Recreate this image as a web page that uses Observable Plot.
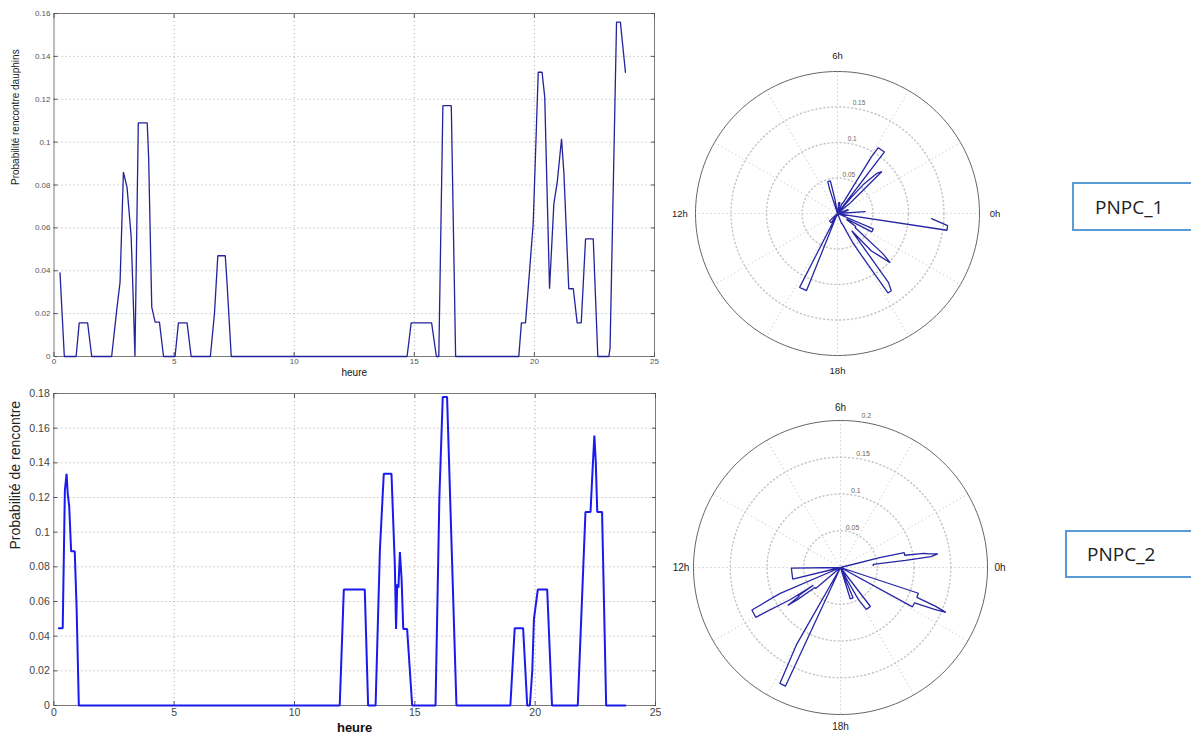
<!DOCTYPE html>
<html>
<head>
<meta charset="utf-8">
<script src="https://cdn.jsdelivr.net/npm/d3@7"></script>
<script src="https://cdn.jsdelivr.net/npm/@observablehq/plot@0.6"></script>
<style>
  body { margin:0; width:1191px; height:733px; overflow:hidden; background:#fff; position:relative;
         font-family:"Liberation Sans", Arial, sans-serif; }
  .pane { position:absolute; }
  .box { position:absolute; border:2px solid #5b9bd5; box-sizing:border-box; background:#fff;
         font-family:"Open Sans", "Noto Sans", sans-serif; font-size:19px; color:#222;
         display:flex; align-items:center; }
</style>
</head>
<body>
<div id="line1" class="pane" style="left:0;top:0"></div>
<div id="line2" class="pane" style="left:0;top:380px"></div>
<div id="polar1" class="pane" style="left:657px;top:33px"></div>
<div id="polar2" class="pane" style="left:660px;top:387px"></div>
<div class="box" style="left:1072px;top:182px;width:140px;height:49px;padding-left:21px">PNPC_1</div>
<div class="box" style="left:1065px;top:530px;width:150px;height:48px;padding-left:20px">PNPC_2</div>
<script>
// ---------- data ----------
// PNPC_1 : probabilité de rencontre des dauphins selon l'heure
const hours1 = [0.25, 0.43, 0.92, 1.05, 1.40, 1.57, 2.40, 2.61, 2.75, 2.89, 3.04, 3.21, 3.29, 3.37,
  3.51, 3.88, 3.94, 4.07, 4.21, 4.39, 4.56, 5.04, 5.18, 5.54, 5.71, 6.51, 6.68, 6.82, 7.13, 7.20, 7.38,
  14.70, 14.87, 15.72, 15.92, 16.02, 16.19, 16.54, 16.72, 19.35, 19.46, 19.63, 19.84, 19.95, 20.16,
  20.32, 20.43, 20.63, 20.81, 20.95, 21.13, 21.23, 21.43, 21.62, 21.78, 21.95, 22.13, 22.45, 22.64,
  23.10, 23.15, 23.42, 23.58, 23.79];
const prob1 = [0.039, 0, 0, 0.0157, 0.0157, 0, 0, 0.0215, 0.0347, 0.086, 0.079, 0.0564, 0.03, 0,
  0.109, 0.109, 0.093, 0.023, 0.016, 0.016, 0, 0, 0.0157, 0.0157, 0, 0, 0.02, 0.047, 0.047, 0.035, 0,
  0, 0.0157, 0.0157, 0, 0, 0.117, 0.117, 0, 0, 0.0157, 0.0157, 0.046, 0.062, 0.1326,
  0.1326, 0.121, 0.0316, 0.0712, 0.0813, 0.1015, 0.0852, 0.0316, 0.0316, 0.0157, 0.0157, 0.0549, 0.0549, 0,
  0, 0.004, 0.156, 0.156, 0.1326];

// PNPC_2
const hours2 = [0.21, 0.37, 0.42, 0.46, 0.53, 0.58, 0.64, 0.72, 0.87, 0.95, 1.04,
  11.88, 12.05, 12.92, 13.06, 13.37, 13.55, 13.71, 14.03, 14.17, 14.22, 14.27, 14.32, 14.38, 14.45,
  14.52, 14.68, 14.89, 15.86, 16.02, 16.16, 16.34, 16.73, 18.97, 19.15, 19.50, 19.67, 19.78, 19.88,
  19.95, 20.11, 20.50, 20.70, 21.77, 22.09, 22.30, 22.40, 22.46, 22.52, 22.58, 22.78, 22.95, 23.75];
const prob2 = [0.0446, 0.0446, 0.089, 0.124, 0.1337, 0.122, 0.115, 0.089, 0.089, 0.055, 0,
  0, 0.0669, 0.0669, 0, 0, 0.09, 0.1337, 0.1337, 0.0808, 0.0442, 0.070, 0.068, 0.0885, 0.0731,
  0.0442, 0.0442, 0, 0, 0.12, 0.178, 0.178, 0, 0, 0.0446, 0.0446, 0, 0, 0.02,
  0.05, 0.0669, 0.0669, 0, 0, 0.1116, 0.1116, 0.14, 0.1558, 0.14, 0.1116, 0.1116, 0, 0];

const xTicks = [0, 5, 10, 15, 20, 25];
const yTicks1 = [0, 0.02, 0.04, 0.06, 0.08, 0.1, 0.12, 0.14, 0.16];
const yTicks2 = [0, 0.02, 0.04, 0.06, 0.08, 0.1, 0.12, 0.14, 0.16, 0.18];
const ringValues = [0.05, 0.1, 0.15, 0.2];
const ringLabels1 = ["0.05", "0.1", "0.15"];
const ringLabels2 = ["0.05", "0.1", "0.15", "0.2"];
const hourLabelHours = [0, 6, 12, 18];
const hourLabels = ["0h", "6h", "12h", "18h"];
const xLabel = "heure";
const yLabel1 = "Probabilité rencontre dauphins";
const yLabel2 = "Probabilité de rencontre";

// ---------- helpers ----------
const fmt = d => d === 0 ? "0" : String(+d.toFixed(2));

function lineChart({hours, probs, yTicks, yMax, width, height, mL, mR, mT, mB,
                    stroke, strokeWidth, tickFont, tickColor, labelFont, labelWeight, yLabel, yLabelFont, yLabelDx, xLabelDy, txPad, tyPad}) {
  const data = hours.map((h, i) => ({h, p: probs[i]}));
  const grid = {stroke: "#a8a8a8", strokeOpacity: 1, strokeDasharray: "1,3", strokeWidth: 1};
  return Plot.plot({
    width, height, marginLeft: mL, marginRight: mR, marginTop: mT, marginBottom: mB,
    style: {fontFamily: "'Liberation Sans', Arial, sans-serif", background: "#fff", overflow: "visible"},
    x: {domain: [0, 25]},
    y: {domain: [0, yMax]},
    marks: [
      Plot.gridX(xTicks.slice(1, -1), grid),
      Plot.gridY(yTicks.slice(1, -1), grid),
      Plot.frame({stroke: "#7a7a7a", strokeWidth: 1}),
      Plot.axisX(xTicks, {anchor: "bottom", tickSize: -4, tickPadding: txPad, tickFormat: fmt,
        fontSize: tickFont, color: tickColor, stroke: "#555", label: null}),
      Plot.axisX(xTicks, {anchor: "top", tickSize: -4, tickFormat: () => "", stroke: "#555", label: null}),
      Plot.axisY(yTicks, {anchor: "left", tickSize: -4, tickPadding: tyPad, tickFormat: fmt,
        fontSize: tickFont, color: tickColor, stroke: "#555", label: null}),
      Plot.axisY(yTicks, {anchor: "right", tickSize: -4, tickFormat: () => "", stroke: "#555", label: null}),
      Plot.line(data, {x: "h", y: "p", stroke, strokeWidth, strokeLinejoin: "miter"}),
      Plot.text([xLabel], {frameAnchor: "bottom", dy: xLabelDy, lineAnchor: "middle",
        fontSize: labelFont, fontWeight: labelWeight, fill: "#111"}),
      Plot.text([yLabel], {frameAnchor: "left", dx: yLabelDx, rotate: -90,
        fontSize: yLabelFont, fill: "#222"})
    ]
  });
}

function polarChart({hours, probs, size, inner, stroke, strokeWidth, ringLabels, labelFont, ringFont, labelR}) {
  const m = (size - inner) / 2;
  const ang = h => h / 24 * 2 * Math.PI;
  const pts = hours.map((h, i) => ({x: probs[i] * Math.cos(ang(h)), y: probs[i] * Math.sin(ang(h))}));
  const rmax = ringValues[ringValues.length - 1];
  const circle = [];
  for (const r of ringValues) for (let a = 0; a <= 360; a += 2)
    circle.push({r, x: r * Math.cos(a * Math.PI / 180), y: r * Math.sin(a * Math.PI / 180)});
  const spokes = d3.range(0, 180, 30).map(a => ({
    x1: rmax * Math.cos(a * Math.PI / 180), y1: rmax * Math.sin(a * Math.PI / 180),
    x2: -rmax * Math.cos(a * Math.PI / 180), y2: -rmax * Math.sin(a * Math.PI / 180)}));
  const c82 = Math.cos(82 * Math.PI / 180), s82 = Math.sin(82 * Math.PI / 180);
  const rl = ringLabels.map((t, i) => ({t, x: ringValues[i] * 1.025 * c82, y: ringValues[i] * 1.025 * s82}));
  const hl = hourLabels.map((t, i) => ({t, x: rmax * labelR * Math.cos(ang(hourLabelHours[i])), y: rmax * labelR * Math.sin(ang(hourLabelHours[i]))}));
  return Plot.plot({
    width: size, height: size, margin: m,
    style: {fontFamily: "'Liberation Sans', Arial, sans-serif", background: "transparent", overflow: "visible"},
    x: {domain: [-rmax, rmax], axis: null},
    y: {domain: [-rmax, rmax], axis: null},
    marks: [
      Plot.line(circle.filter(d => d.r < rmax), {x: "x", y: "y", z: "r", stroke: "#c6c6c6", strokeDasharray: "1,3"}),
      Plot.link(spokes, {x1: "x1", y1: "y1", x2: "x2", y2: "y2", stroke: "#bdbdbd", strokeDasharray: "1,3"}),
      Plot.line(circle.filter(d => d.r === rmax), {x: "x", y: "y", stroke: "#666", strokeWidth: 1}),
      Plot.text(rl, {x: "x", y: "y", text: "t", textAnchor: "start", lineAnchor: "bottom", fontSize: ringFont, fill: "#666"}),
      Plot.text(hl, {x: "x", y: "y", text: "t", fontSize: labelFont, fill: "#222"}),
      Plot.line(pts, {x: "x", y: "y", stroke, strokeWidth, strokeLinejoin: "miter"})
    ]
  });
}

// ---------- render ----------
document.getElementById("line1").append(lineChart({
  hours: hours1, probs: prob1, yTicks: yTicks1, yMax: 0.16,
  width: 665, height: 380, mL: 53.5, mR: 11, mT: 13, mB: 24,
  stroke: "#23239c", strokeWidth: 1.3, tickFont: 8, tickColor: "#555",
  labelFont: 10, labelWeight: "normal", yLabel: yLabel1, yLabelFont: 10, yLabelDx: -38, xLabelDy: 16,
  txPad: 6, tyPad: 7.5
}));
document.getElementById("line2").append(lineChart({
  hours: hours2, probs: prob2, yTicks: yTicks2, yMax: 0.18,
  width: 665, height: 353, mL: 53.3, mR: 10, mT: 13, mB: 28,
  stroke: "#1a1af0", strokeWidth: 2, tickFont: 10.5, tickColor: "#444",
  labelFont: 13, labelWeight: "bold", yLabel: yLabel2, yLabelFont: 14, yLabelDx: -38, xLabelDy: 22,
  txPad: 7, tyPad: 8
}));
document.getElementById("polar1").append(polarChart({
  hours: hours1, probs: prob1, size: 360, inner: 284, stroke: "#2626a6", strokeWidth: 1.3,
  ringLabels: ringLabels1, labelFont: 9.5, ringFont: 6.5, labelR: 1.11
}));
document.getElementById("polar2").append(polarChart({
  hours: hours2, probs: prob2, size: 360, inner: 294, stroke: "#2626a6", strokeWidth: 1.3,
  ringLabels: ringLabels2, labelFont: 10, ringFont: 7, labelR: 1.085
}));
</script>
</body>
</html>
